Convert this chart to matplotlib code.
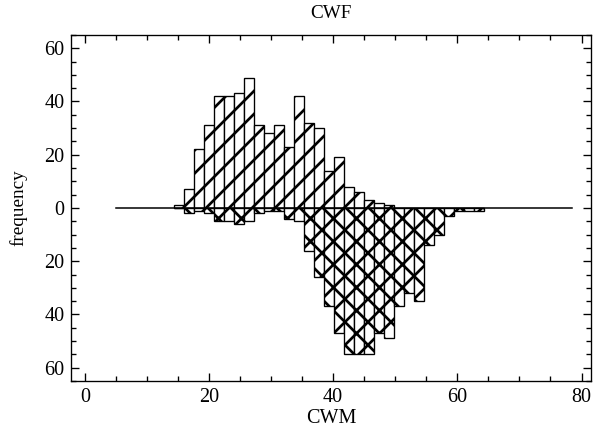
import matplotlib
matplotlib.use('Agg')
import matplotlib.pyplot as plt
from matplotlib.ticker import MultipleLocator, FuncFormatter

# histogram bins (CWM) and counts
bin_start = 14.4
bin_width = 1.61
cwf_counts = [1, 7, 22, 31, 42, 42, 43, 49, 31, 28, 31, 23, 42, 32, 30, 14,
              19, 8, 6, 3, 2, 1, 0, 0, 0, 0, 0, 0, 0, 0, 0]
cwm_counts = [0, 2, 1, 2, 5, 5, 6, 5, 2, 1, 1, 4, 5, 16, 26, 37,
              47, 55, 55, 55, 47, 49, 37, 32, 35, 14, 10, 3, 1, 1, 1]
line_range = [5, 78.5]

plt.rcParams['font.family'] = ['Liberation Serif', 'DejaVu Serif']
plt.rcParams['hatch.linewidth'] = 1.4

fig = plt.figure(figsize=(598 / 138, 431 / 138), dpi=138)
ax = fig.add_axes([0.119, 0.116, 0.869, 0.803])

lefts = [bin_start + i * bin_width for i in range(len(cwf_counts))]
ax.bar(lefts, cwf_counts, width=bin_width, align='edge', facecolor='white',
       edgecolor='black', linewidth=0.7, hatch='//')
ax.bar(lefts, [-c for c in cwm_counts], width=bin_width, align='edge',
       facecolor='white', edgecolor='black', linewidth=0.7, hatch='xx')
ax.plot(line_range, [0, 0], color='black', linewidth=0.8)

ax.set_xlim(-2.2, 81.5)
ax.set_ylim(-65, 65)
ax.xaxis.set_major_locator(MultipleLocator(20))
ax.xaxis.set_minor_locator(MultipleLocator(5))
ax.yaxis.set_major_locator(MultipleLocator(20))
ax.yaxis.set_minor_locator(MultipleLocator(5))
ax.yaxis.set_major_formatter(FuncFormatter(lambda v, p: '%d' % abs(v)))
ax.tick_params(which='both', direction='in', top=True, right=True,
               labelsize=10.5, width=0.7, colors='black')
ax.tick_params(which='major', length=4.2)
ax.tick_params(which='minor', length=2.6)
for s in ax.spines.values():
    s.set_linewidth(0.7)

ax.set_title('CWF', fontsize=10, pad=9)
ax.set_xlabel('CWM', fontsize=10.5, labelpad=1)
ax.set_ylabel('frequency', fontsize=10, labelpad=9)

fig.savefig('out.png', dpi=138)
